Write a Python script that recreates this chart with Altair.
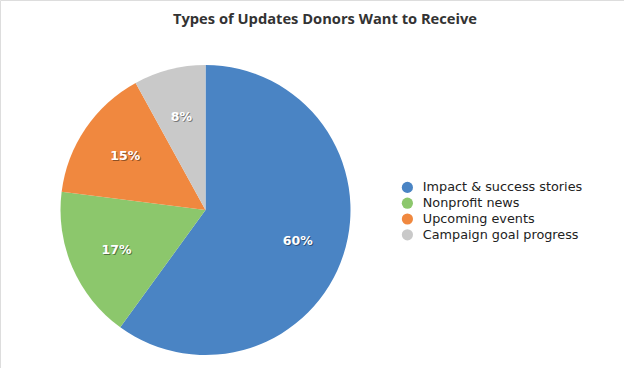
import altair as alt
import pandas as pd

categories = ["Impact & success stories", "Nonprofit news", "Upcoming events", "Campaign goal progress"]
values = [60, 17, 15, 8]
labels = ["60%", "17%", "15%", "8%"]
colors = ["#4a84c4", "#8cc76c", "#f0883f", "#c9c9c9"]
title_text = "Types of Updates Donors Want to Receive"

df = pd.DataFrame({
    "category": categories,
    "value": values,
    "label": labels,
    "idx": list(range(len(categories))),
})

CX, CY, R = 205.5, 210, 145

theta = alt.Theta("value:Q", stack=True)
order = alt.Order("idx:Q", sort="ascending")

base = alt.Chart(df)

pie = base.mark_arc(outerRadius=R, stroke=None).encode(
    theta=theta,
    order=order,
    color=alt.Color(
        "category:N",
        scale=alt.Scale(domain=categories, range=colors),
        sort=categories,
        legend=alt.Legend(
            title=None,
            orient="none",
            legendX=401,
            legendY=181,
            symbolType="circle",
            symbolSize=125,
            symbolStrokeWidth=0,
            labelFont="DejaVu Sans",
            labelFontSize=12.8,
            labelColor="#222222",
            labelOffset=9,
            rowPadding=1.8,
            padding=0,
            labelLimit=300,
        ),
    ),
    x=alt.value(CX),
    y=alt.value(CY),
)

shadow = base.mark_text(
    radius=97, font="DejaVu Sans", fontSize=12.5, fontWeight="bold",
    color="#000000", opacity=0.4, dx=1, dy=1
).encode(
    theta=theta, order=order, text="label:N",
    x=alt.value(CX), y=alt.value(CY + 1),
)

text = base.mark_text(
    radius=97, font="DejaVu Sans", fontSize=12.5, fontWeight="bold", color="white"
).encode(
    theta=theta, order=order, text="label:N",
    x=alt.value(CX), y=alt.value(CY + 1),
)

title = alt.Chart(pd.DataFrame({"t": [title_text]})).mark_text(
    font="Open Sans", fontSize=14.7, fontWeight="bold", color="#333333",
    align="center", baseline="middle"
).encode(text="t:N", x=alt.value(325), y=alt.value(20))

chart = alt.layer(pie, shadow, text, title).properties(
    width=624, height=368, padding=0,
    autosize=alt.AutoSizeParams(type="none"),
).configure_view(stroke=None).configure(background="white")

chart.save("out.html", embed_options={"renderer": "svg", "actions": False})
